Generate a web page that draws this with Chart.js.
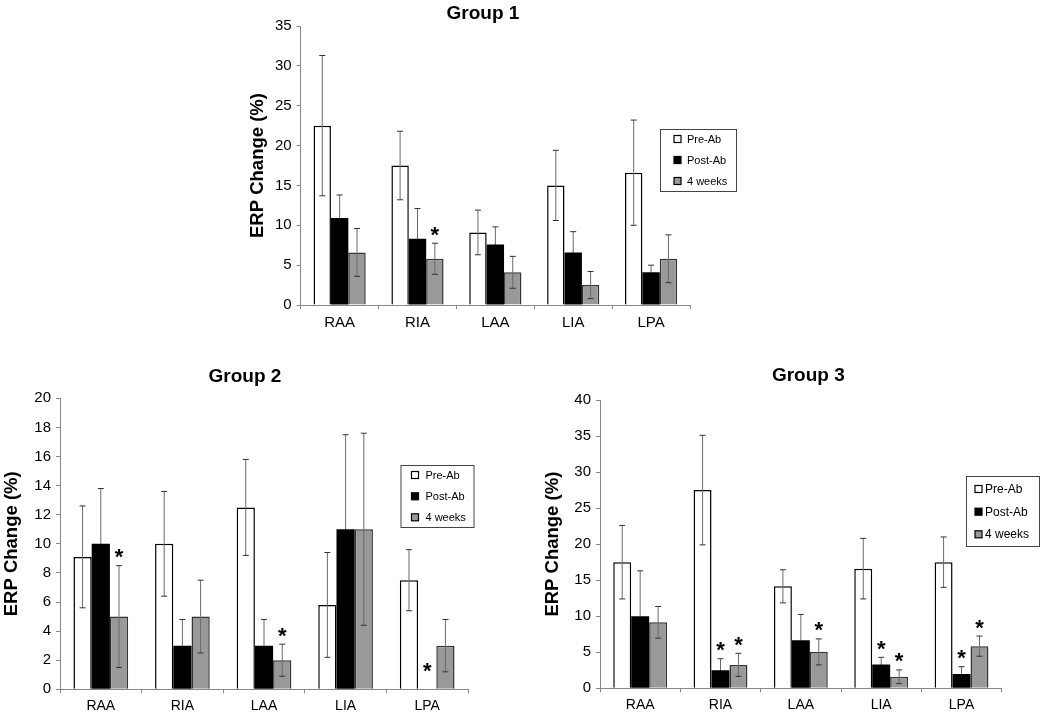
<!DOCTYPE html>
<html>
<head>
<meta charset="utf-8">
<script src="https://cdn.jsdelivr.net/npm/chart.js@4.4.0/dist/chart.umd.min.js"></script>
<style>
  html, body { margin: 0; padding: 0; background: #fff; }
  body { width: 1050px; height: 713px; position: relative; overflow: hidden; }
  canvas { position: absolute; }
</style>
</head>
<body>
<canvas id="g1" width="520" height="335" style="left:230px;top:0px"></canvas>
<canvas id="g2" width="520" height="358" style="left:0px;top:355px"></canvas>
<canvas id="g3" width="530" height="358" style="left:520px;top:355px"></canvas>
<script>
const categories = ["RAA", "RIA", "LAA", "LIA", "LPA"];
const seriesNames = ["Pre-Ab", "Post-Ab", "4 weeks"];

// Group 1
const g1Pre     = [22.5, 17.5, 9.1, 15.0, 16.6];
const g1PreErr  = [8.8, 4.3, 2.8, 4.4, 6.6];
const g1Post    = [10.9, 8.3, 7.6, 6.6, 4.1];
const g1PostErr = [2.9, 3.8, 2.2, 2.6, 0.9];
const g1Wk4     = [6.6, 5.8, 4.1, 2.5, 5.8];
const g1Wk4Err  = [3.0, 1.95, 2.0, 1.7, 3.0];
const g1Stars   = [[0, 0, 0, 0, 0], [0, 0, 0, 0, 0], [0, 1, 0, 0, 0]];

// Group 2
const g2Pre     = [9.1, 10.0, 12.5, 5.8, 7.5];
const g2PreErr  = [3.5, 3.6, 3.3, 3.6, 2.1];
const g2Post    = [10.0, 3.0, 3.0, 11.0, 0];
const g2PostErr = [3.8, 1.8, 1.8, 6.5, 0];
const g2Wk4     = [5.0, 5.0, 2.0, 11.0, 3.0];
const g2Wk4Err  = [3.5, 2.5, 1.1, 6.6, 1.8];
const g2Stars   = [[0, 0, 0, 0, 0], [0, 0, 0, 0, 1], [1, 0, 1, 0, 0]];

// Group 3
const g3Pre     = [17.5, 27.5, 14.15, 16.6, 17.5];
const g3PreErr  = [5.1, 7.6, 2.3, 4.2, 3.5];
const g3Post    = [10.0, 2.5, 6.65, 3.3, 2.0];
const g3PostErr = [6.3, 1.6, 3.6, 1.0, 1.0];
const g3Wk4     = [9.15, 3.25, 5.05, 1.6, 5.85];
const g3Wk4Err  = [2.2, 1.6, 1.8, 0.95, 1.4];
const g3Stars   = [[0, 0, 0, 0, 0], [0, 1, 0, 1, 1], [0, 1, 1, 1, 1]];

// y axis ranges
const yMax  = [35, 20, 40];
const yStep = [5, 2, 5];

const FONT = "'Liberation Sans', Arial, Helvetica, sans-serif";
const fills   = ["#ffffff", "#000000", "#999999"];
const borders = ["#000000", "#000000", "#333333"];

// error bars, stars, title and legend box
const decoPlugin = {
  id: "deco",
  afterDatasetsDraw(chart, args, opts) {
    const ctx = chart.ctx;
    const y = chart.scales.y;
    ctx.save();
    chart.data.datasets.forEach((ds, i) => {
      const meta = chart.getDatasetMeta(i);
      meta.data.forEach((bar, j) => {
        const v = ds.data[j];
        const e = opts.errors[i][j];
        const x = bar.x;
        const yTop = y.getPixelForValue(v + e);
        const yVal = y.getPixelForValue(v);
        if (e > 0) {
          const yBot = y.getPixelForValue(v - e);
          // lower half disappears inside the black bars
          const lowCol = i === 1 ? "#000" : "#6a6a6a";
          ctx.lineWidth = 1;
          ctx.strokeStyle = "#6a6a6a";
          ctx.beginPath();
          ctx.moveTo(x, yTop);
          ctx.lineTo(x, yVal);
          ctx.stroke();
          ctx.strokeStyle = lowCol;
          ctx.beginPath();
          ctx.moveTo(x, yVal);
          ctx.lineTo(x, yBot);
          ctx.stroke();
          ctx.strokeStyle = "#333";
          ctx.beginPath();
          ctx.moveTo(x - 3, yTop); ctx.lineTo(x + 3, yTop);
          ctx.stroke();
          ctx.strokeStyle = i === 1 ? "#000" : "#333";
          ctx.beginPath();
          ctx.moveTo(x - 3, yBot); ctx.lineTo(x + 3, yBot);
          ctx.stroke();
        }
        if (opts.stars[i][j]) {
          const base = y.getPixelForValue(0);
          const cy = Math.min(yTop - 14, base - 24);
          ctx.fillStyle = "#000";
          ctx.font = "bold 22px " + FONT;
          ctx.textAlign = "center";
          ctx.textBaseline = "alphabetic";
          ctx.fillText("*", x, cy + 12.5);
        }
      });
    });

    // title
    ctx.fillStyle = "#000";
    ctx.font = "bold 19px " + FONT;
    ctx.textAlign = "center";
    ctx.textBaseline = "middle";
    ctx.fillText(opts.title, opts.titleX, opts.titleY);

    // legend box
    const L = opts.legend;
    ctx.strokeStyle = "#444";
    ctx.lineWidth = 1;
    ctx.fillStyle = "#fff";
    ctx.fillRect(L.x, L.y, L.w, L.h);
    ctx.strokeRect(L.x + 0.5, L.y + 0.5, L.w, L.h);
    ctx.font = L.font + "px " + FONT;
    ctx.textAlign = "left";
    ctx.textBaseline = "middle";
    seriesNames.forEach((name, k) => {
      const ry = L.rows[k];
      ctx.fillStyle = fills[k];
      ctx.fillRect(L.sq - 3.5, ry - 3.5, 7, 7);
      ctx.strokeStyle = "#000";
      ctx.lineWidth = 1.2;
      ctx.strokeRect(L.sq - 3.5, ry - 3.5, 7, 7);
      ctx.fillStyle = "#000";
      ctx.fillText(name, L.tx, ry + 0.5);
    });
    ctx.restore();
  }
};

function makeChart(id, g, vals, errs, stars, geo) {
  const lh = geo.yTitleSize * 1.2;
  return new Chart(document.getElementById(id), {
    type: "bar",
    data: {
      labels: categories,
      datasets: seriesNames.map((name, i) => ({
        label: name,
        data: vals[i],
        backgroundColor: fills[i],
        borderColor: borders[i],
        borderWidth: i === 1 ? 0 : 1.5,
        categoryPercentage: 0.67,
        barPercentage: 1.0
      }))
    },
    options: {
      responsive: false,
      animation: false,
      devicePixelRatio: 1,
      layout: {
        padding: { left: geo.padL, top: geo.top, right: geo.w - geo.right, bottom: 0 }
      },
      plugins: {
        legend: { display: false },
        tooltip: { enabled: false },
        deco: {
          errors: errs,
          stars: stars,
          title: "Group " + (g + 1),
          titleX: geo.titleX,
          titleY: geo.titleY,
          legend: geo.legend
        }
      },
      scales: {
        x: {
          afterFit: (s) => { s.height = geo.h - geo.bottom; },
          grid: { drawOnChartArea: false, offset: true, tickLength: 4, color: "#888" },
          border: { color: "#888", width: 1 },
          ticks: { color: "#000", padding: geo.xPad, font: { family: FONT, size: geo.xFont } }
        },
        y: {
          min: 0,
          max: yMax[g],
          afterFit: (s) => { s.width = geo.left - geo.padL; },
          grid: { drawOnChartArea: false, tickLength: 4, color: "#888" },
          border: { color: "#888", width: 1 },
          ticks: { stepSize: yStep[g], color: "#000", padding: 5, font: { family: FONT, size: geo.yFont } },
          title: {
            display: true,
            text: "ERP Change (%)",
            color: "#000",
            font: { family: FONT, size: geo.yTitleSize, weight: "bold" },
            padding: { top: geo.yTitleX - geo.padL - lh / 2, bottom: 0 }
          }
        }
      }
    },
    plugins: [decoPlugin]
  });
}

makeChart("g1", 0, [g1Pre, g1Post, g1Wk4], [g1PreErr, g1PostErr, g1Wk4Err], g1Stars, {
  w: 520, h: 335, padL: 2, left: 70.7, right: 460, top: 26, bottom: 305,
  yTitleX: 28, yTitleSize: 18.5, titleX: 253, titleY: 14,
  xPad: 5, xFont: 15, yFont: 15,
  legend: { x: 430, y: 129, w: 76, h: 62, sq: 447.5, tx: 457, rows: [139, 160, 181], font: 11 }
});

makeChart("g2", 1, [g2Pre, g2Post, g2Wk4], [g2PreErr, g2PostErr, g2Wk4Err], g2Stars, {
  w: 520, h: 358, padL: 0, left: 60, right: 468, top: 43.3, bottom: 334.3,
  yTitleX: 12, yTitleSize: 18.5, titleX: 245, titleY: 22,
  xPad: 4, xFont: 14, yFont: 15,
  legend: { x: 400.5, y: 465 - 355, w: 73, h: 62, sq: 415, tx: 425.5, rows: [120, 141.3, 162.3], font: 11 }
});

makeChart("g3", 2, [g3Pre, g3Post, g3Wk4], [g3PreErr, g3PostErr, g3Wk4Err], g3Stars, {
  w: 530, h: 358, padL: 2, left: 80, right: 481.7, top: 45, bottom: 333.3,
  yTitleX: 33.3, yTitleSize: 18.5, titleX: 288.3, titleY: 21,
  xPad: 4, xFont: 14, yFont: 15,
  legend: { x: 446, y: 121, w: 73, h: 70, sq: 458.5, tx: 465, rows: [134, 156.7, 179.3], font: 12 }
});
</script>
</body>
</html>
